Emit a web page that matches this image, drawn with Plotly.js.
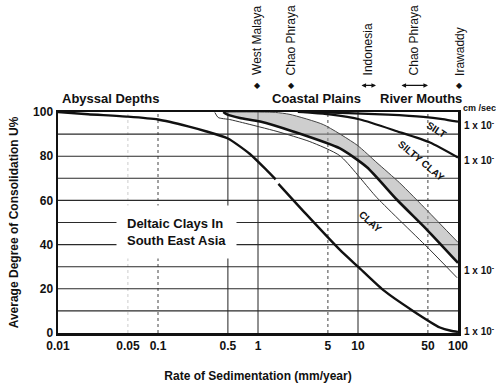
<!DOCTYPE html>
<html><head><meta charset="utf-8">
<script src="https://cdn.plot.ly/plotly-3.0.1.min.js"></script>
<style>html,body{margin:0;padding:0;background:#fff}#c{width:496px;height:389px}</style>
</head><body><div id="c"></div>
<script>
// Abyssal-depth curve (with the small break in the printed line)
const abyssX = [0.01,0.02,0.05,0.1,0.2,0.3,0.5,0.83,1.2,1.5,null,1.6,3,6.6,10,17.8,35.5,66,85,100];
const abyssY = [100,99,97.9,96.6,93.5,91.3,88,81,74,69.5,null,67.5,54,37.6,30,19.5,10,2.5,1,0.5];
// SILT
const siltX = [2.8,8,20,45,70,100];
const siltY = [100,99.5,98.8,97.8,96.8,95.6];
// SILTY CLAY
const siltyClayX = [2.5,3.5,5.2,10.5,24.5,52.5,100];
const siltyClayY = [100,99.6,98.9,96.6,91.3,86.2,79.4];
// Shaded band: upper boundary and thick clay curve
const bandUpX = [0.45,1,1.5,2.09,4.5,9.8,15.5,26,49,100];
const bandUpY = [100,100,99.8,98.9,94.3,85,77,68,55.5,41];
const clayX = [0.45,0.49,0.66,1.05,2.24,6.6,12.3,24.5,49,100];
const clayY = [100,98.9,97.3,95.7,91.2,83.5,75,60.3,46.7,31.7];
// thin lower CLAY line
const clayLowX = [0.37,0.4,0.52,0.7,1.55,3.3,6.6,15.5,52.5,98];
const clayLowY = [99.8,97.5,96.6,95.2,91.2,86.6,80.2,61.2,37.6,25];

const xTicks = [0.01,0.05,0.1,0.5,1,5,10,50,100];
const xTickText = ['0.01','0.05','0.1','0.5','1','5','10','50','100'];
const yTicks = [0,20,40,60,80,100];
const yTickText = ['0','20','40','60','80','100'];
const solidV = [0.5,1,10];
const dottedV = [0.1,5,50];
const faintV = [0.05];
const hGrid = [10,20,30,40,50,60,70,80,90];
const sites = ['West Malaya','Chao Phraya','Indonesia','Chao Phraya','Irawaddy'];
const regions = ['Abyssal Depths','Coastal Plains','River Mouths'];
const rightLabels = ['1 x 10<sup>-</sup>','1 x 10<sup>-</sup>','1 x 10<sup>-</sup>','1 x 10<sup>-</sup>'];
const curveLabels = ['SILT','SILTY CLAY','CLAY'];

const F = 'Liberation Sans, Arial, sans-serif';
const K = '#111';
const line = (w, c) => ({color:c||K, width:w, shape:'spline', smoothing:0.6});

const traces = [
  {x:bandUpX, y:bandUpY, mode:'lines', line:line(1,'#444'), hoverinfo:'skip'},
  {x:clayX, y:clayY, mode:'lines', fill:'tonexty', fillcolor:'rgba(165,165,165,0.55)', line:line(2.6), hoverinfo:'skip'},
  {x:clayLowX, y:clayLowY, mode:'lines', line:line(1,'#333'), hoverinfo:'skip'},
  {x:siltX, y:siltY, mode:'lines', line:line(2.2), hoverinfo:'skip'},
  {x:siltyClayX, y:siltyClayY, mode:'lines', line:line(2.2), hoverinfo:'skip'},
  {x:abyssX, y:abyssY, mode:'lines', connectgaps:false, line:line(2.4), hoverinfo:'skip'}
];

const shapes = [];
solidV.forEach(v => shapes.push({type:'line', xref:'x', yref:'paper', x0:v, x1:v, y0:0, y1:1, layer:'below', line:{color:'#222', width:1}}));
dottedV.forEach(v => shapes.push({type:'line', xref:'x', yref:'paper', x0:v, x1:v, y0:0, y1:1, layer:'below', line:{color:'#444', width:1, dash:'dot'}}));
faintV.forEach(v => shapes.push({type:'line', xref:'x', yref:'paper', x0:v, x1:v, y0:0, y1:1, layer:'below', line:{color:'#ccc', width:1, dash:'dot'}}));
hGrid.forEach(v => shapes.push({type:'line', xref:'paper', yref:'y', x0:0, x1:1, y0:v, y1:v, layer:'below', line:{color:'#2a2a2a', width:1.1}}));

const px = p => (p - 58) / 400;
const py = p => (333 - p) / 220.5;
const ann = [];
const siteX = [257, 291, 368, 414, 460];
const markW = [0, 0, 16, 28, 0];
sites.forEach((s,i) => ann.push({xref:'paper', yref:'paper', x:px(siteX[i]), y:py(78), text:s, textangle:-90, showarrow:false, xanchor:'center', yanchor:'bottom', font:{family:F, size:12, color:K}}));
siteX.forEach((x,i) => {
  if (markW[i] > 0) {
    ann.push({xref:'paper', yref:'paper', x:px(x + markW[i]/2), y:py(86), axref:'pixel', ayref:'pixel', ax:-markW[i], ay:0, text:'', showarrow:true, arrowhead:2, arrowside:'end+start', arrowsize:0.7, arrowwidth:1.3, arrowcolor:K});
  } else {
    ann.push({xref:'paper', yref:'paper', x:px(x), y:py(86), text:'◆', showarrow:false, xanchor:'center', yanchor:'middle', font:{family:'DejaVu Sans', size:8, color:K}});
  }
});
const regX = [60, 316, 421];
regions.forEach((s,i) => ann.push({xref:'paper', yref:'paper', x:px(regX[i]), y:py(99), text:'<b>'+s+'</b>', showarrow:false, xanchor: i===0 ? 'left' : 'center', yanchor:'middle', font:{family:F, size:13, color:K}}));
ann.push({xref:'paper', yref:'paper', x:px(461), y:py(109), text:'<b>cm /sec</b>', showarrow:false, xanchor:'left', yanchor:'middle', font:{family:F, size:9, color:K}});
const rlY = [125, 160, 270, 331];
rightLabels.forEach((s,i) => ann.push({xref:'paper', yref:'paper', x:px(462), y:py(rlY[i]), text:'<b>'+s+'</b>', showarrow:false, xanchor:'left', yanchor:'middle', font:{family:F, size:10, color:K}}));
ann.push({xref:'paper', yref:'paper', x:px(176), y:py(232), text:'<b>Deltaic Clays In<br>South East Asia</b>', showarrow:false, xanchor:'center', yanchor:'middle', align:'left', bgcolor:'#fff', borderpad:10, font:{family:F, size:13, color:K}});
const clX = [436, 421, 370], clY = [130, 161, 222], clA = [33, 40, 42];
curveLabels.forEach((s,i) => ann.push({xref:'paper', yref:'paper', x:px(clX[i]), y:py(clY[i]), text:'<b>'+s+'</b>', textangle:clA[i], showarrow:false, xanchor:'center', yanchor:'middle', font:{family:F, size:10, color:K}}));

const layout = {
  width:496, height:389,
  margin:{l:58, r:38, t:112, b:56},
  paper_bgcolor:'#fff', plot_bgcolor:'#fff',
  showlegend:false,
  font:{family:F, color:K},
  xaxis:{type:'log', range:[-2,2], tickvals:xTicks, ticktext:xTickText.map(t => '<b>'+t+'</b>'), ticks:'', showgrid:false, zeroline:false,
    showline:true, linecolor:K, linewidth:2.5, mirror:true, tickfont:{family:F, size:12, color:K},
    title:{text:'<b>Rate of Sedimentation (mm/year)</b>', font:{family:F, size:12, color:K}, standoff:20}},
  yaxis:{range:[0,100], tickvals:yTicks, ticktext:yTickText.map(t => '<b>'+t+'</b>'), ticks:'', showgrid:false, zeroline:false,
    showline:true, linecolor:K, linewidth:2.5, mirror:true, tickfont:{family:F, size:12, color:K},
    title:{text:'<b>Average Degree of Consolidation U%</b>', font:{family:F, size:12, color:K}, standoff:12}},
  shapes: shapes,
  annotations: ann
};
Plotly.newPlot('c', traces, layout, {staticPlot:true, displayModeBar:false});
</script></body></html>
